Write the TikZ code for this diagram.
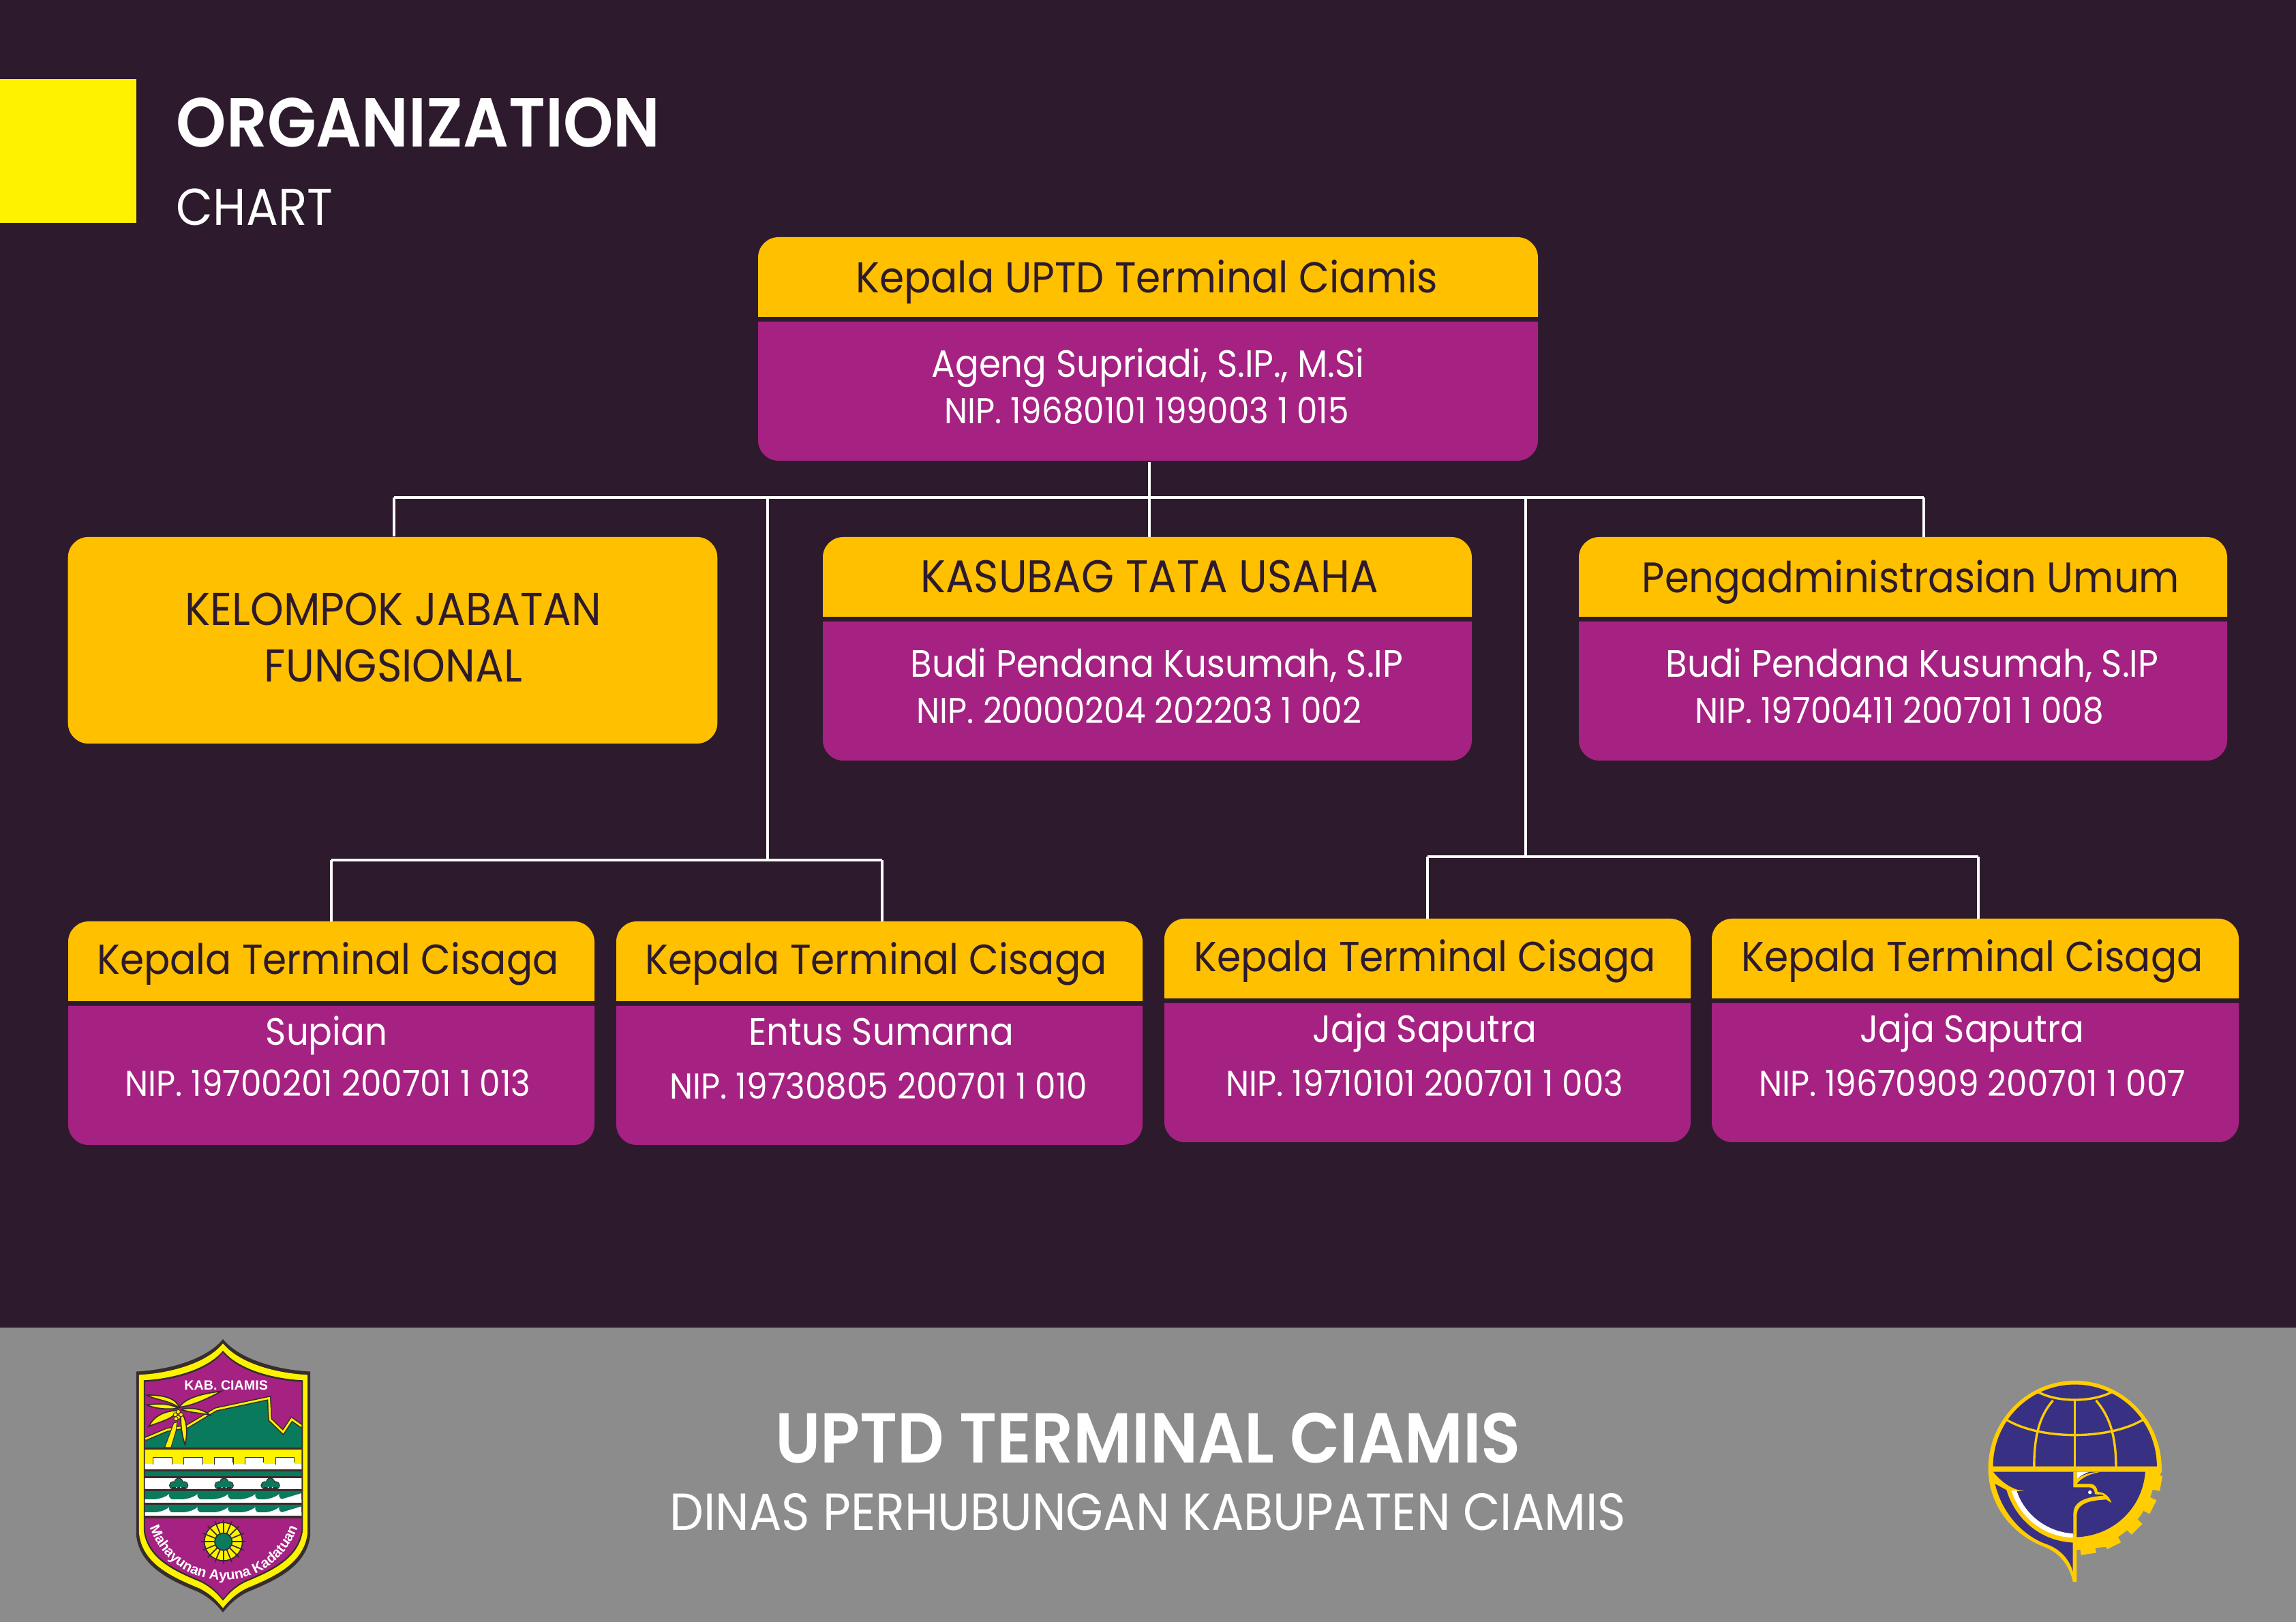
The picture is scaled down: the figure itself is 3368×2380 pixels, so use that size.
\documentclass[tikz,border=0pt]{standalone}
\usepackage{fontspec}
\usepackage{xcolor}
\usepackage{tikz}
\usetikzlibrary{decorations.text}
\setmainfont[FakeStretch=0.92]{Poppins}
\newfontfamily\semifont[FakeStretch=0.92]{Poppins SemiBold}
\newfontfamily\crestfont{Liberation Sans}
\definecolor{ogPlum}   {RGB}{ 45, 27, 45}
\definecolor{ogPurple} {RGB}{166, 34,130}
\definecolor{ogGold}   {RGB}{255,192,  0}
\definecolor{ogYellow} {RGB}{255,242,  0}
\definecolor{ogGrey}   {RGB}{140,140,140}
\definecolor{ogGreen}  {RGB}{ 10,122, 92}
\definecolor{ogInk}    {RGB}{ 55, 45, 45}
\definecolor{ogNavy}   {RGB}{ 56, 48,130}
\definecolor{ogAmber}  {RGB}{255,205,  0}

% one card: name, left, top, width
\newcommand{\orgcard}[4]{%
  \node[cardbox,minimum width=#4*0.01cm,anchor=north west] (#1) at (#2,#3) {};
  \fill[ogGold] (#2,{#3+117}) [rounded corners=0.3cm] -- (#2,#3) -- ({#2+#4},#3)
    -- ({#2+#4},{#3+60}) [sharp corners] -- ({#2+#4},{#3+117}) -- cycle;
  \fill[ogPurple] (#2,{#3+124}) -- ({#2+#4},{#3+124}) [rounded corners=0.3cm]
    -- ({#2+#4},{#3+328}) -- (#2,{#3+328}) -- (#2,{#3+200}) [sharp corners] -- cycle;
}
\newcommand{\crestshape}{(532,105) .. controls (600,190) and (760,240) .. (917,248)
  -- (917,970) .. controls (900,1110) and (760,1170) .. (640,1220)
  .. controls (590,1245) and (560,1275) .. (532,1310)
  .. controls (504,1275) and (474,1245) .. (424,1220)
  .. controls (304,1170) and (165,1110) .. (150,970) -- (150,248)
  .. controls (304,240) and (464,190) .. (532,105) -- cycle}

\begin{document}
\begin{tikzpicture}[
  x=0.01cm,y=-0.01cm,
  cardbox/.style={minimum height=3.28cm,inner sep=0pt},
  link/.style={draw=white,line width=1.1pt},
  headtxt/.style={anchor=base,text=ogPlum,font=\fontsize{18}{22}\selectfont},
  termtxt/.style={headtxt,font=\fontsize{17.5}{22}\selectfont},
  nametxt/.style={anchor=base,text=white,font=\fontsize{15.9}{20}\selectfont},
  niptxt/.style={anchor=base,text=white,font=\fontsize{15}{17}\selectfont}
]
\useasboundingbox (0,0) rectangle (3368,2380);
\fill[ogPlum] (0,0) rectangle (3368,1948);
\fill[ogGrey] (0,1948) rectangle (3368,2380);
\fill[ogYellow] (0,116) rectangle (200,327);

\node[anchor=base west,text=white,inner sep=0pt,font=\fontsize{28.9}{34}\semifont] (ttl) at (258,216) {ORGANIZATION};
\node[anchor=base west,text=white,inner sep=0pt,font=\fontsize{21.6}{24}\selectfont] (sub) at (258,331) {CHART};

% connectors first
\coordinate (busL) at (578,730);
\coordinate (busM) at (1686,730);
\coordinate (busR) at (2822,730);
\coordinate (busA) at (1126,730);
\coordinate (busB) at (2238,730);
\coordinate (forkA) at (1126,1262);
\coordinate (forkB) at (2238,1257);
\coordinate (dropA) at (486,1262);
\coordinate (dropB) at (1294,1262);
\coordinate (dropC) at (2094,1257);
\coordinate (dropD) at (2902,1257);

\orgcard{kepala}{1112}{348}{1144}
\orgcard{tu}{1207}{788}{952}
\orgcard{umum}{2316}{788}{951}
\orgcard{ta}{100}{1352}{772}
\orgcard{tb}{904}{1352}{772}
\orgcard{tc}{1708}{1348}{772}
\orgcard{td}{2511}{1348}{773}
\node[fill=ogGold,rounded corners=0.3cm,minimum width=9.52cm,minimum height=3.03cm,
      text=ogPlum] (jf) at (576,939.5) {};
\node[align=center,text=ogPlum,font=\fontsize{19.2}{23.6}\selectfont] (jfT) at (577,935)
      {KELOMPOK JABATAN\\FUNGSIONAL};

\draw[link] (busM |- kepala.south) -- (busM);
\draw[link] (busL) -- (busR);
\draw[link] (busL) -- (busL |- jf.north);
\draw[link] (busM) -- (busM |- tu.north);
\draw[link] (busR) -- (busR |- umum.north);
\draw[link] (busA) -- (forkA);
\draw[link] (busB) -- (forkB);
\draw[link] (dropA) -- (dropB);
\draw[link] (dropA) -- (dropA |- ta.north);
\draw[link] (dropB) -- (dropB |- tb.north);
\draw[link] (dropC) -- (dropD);
\draw[link] (dropC) -- (dropC |- tc.north);
\draw[link] (dropD) -- (dropD |- td.north);

\node[headtxt] (kepalaH) at (1682,430) {Kepala UPTD Terminal Ciamis};
\node[nametxt] (kepalaN) at (1684,554) {Ageng Supriadi, S.IP., M.Si};
\node[niptxt]  (kepalaP) at (1682,622) {NIP. 19680101 199003 1 015};
\node[headtxt,font=\fontsize{19.1}{22}\selectfont] (tuH) at (1686,870) {KASUBAG TATA USAHA};
\node[nametxt] (tuN) at (1697,994) {Budi Pendana Kusumah, S.IP};
\node[niptxt]  (tuP) at (1671,1062) {NIP. 20000204 202203 1 002};
\node[headtxt,font=\fontsize{17.8}{22}\selectfont] (umumH) at (2803,870) {Pengadministrasian Umum};
\node[nametxt] (umumN) at (2805,994) {Budi Pendana Kusumah, S.IP};
\node[niptxt]  (umumP) at (2786,1062) {NIP. 19700411 200701 1 008};
\node[termtxt] (taH) at (481,1430) {Kepala Terminal Cisaga};
\node[nametxt] (taN) at (479,1534) {Supian};
\node[niptxt]  (taP) at (481,1609) {NIP. 19700201 200701 1 013};
\node[termtxt] (tbH) at (1285,1430) {Kepala Terminal Cisaga};
\node[nametxt] (tbN) at (1293,1534) {Entus Sumarna};
\node[niptxt]  (tbP) at (1289,1613) {NIP. 19730805 200701 1 010};
\node[termtxt] (tcH) at (2090,1426) {Kepala Terminal Cisaga};
\node[nametxt] (tcN) at (2090,1530) {Jaja Saputra};
\node[niptxt]  (tcP) at (2090,1609) {NIP. 19710101 200701 1 003};
\node[termtxt] (tdH) at (2893,1426) {Kepala Terminal Cisaga};
\node[nametxt] (tdN) at (2893,1530) {Jaja Saputra};
\node[niptxt]  (tdP) at (2893,1609) {NIP. 19670909 200701 1 007};

\node[anchor=base,text=white,font=\fontsize{29.5}{34}\semifont] (foot) at (1684,2146) {UPTD TERMINAL CIAMIS};
\node[anchor=base,text=white,font=\fontsize{21.8}{24}\selectfont] (dinas) at (1684,2245) {DINAS PERHUBUNGAN KABUPATEN CIAMIS};

% crest of the regency
\begin{scope}[shift={(150,1930)},x=0.00333cm,y=-0.00333cm]
\fill[ogInk] \crestshape;
\fill[ogYellow,scale around={0.968:(533,700)}] \crestshape;
\fill[ogInk,scale around={0.915:(533,700)}] \crestshape;
\begin{scope}
\clip[scale around={0.9:(533,705)}] \crestshape;
\fill[ogPurple] (100,100) rectangle (1000,1400);
\fill[ogGreen] (190,585) -- (190,550) -- (285,510) -- (375,495) -- (500,420) -- (735,370)
  -- (740,465) -- (797,515) -- (835,465) -- (880,495) -- (880,585) -- cycle;
\draw[ogInk,line width=1.7pt] (190,545) -- (285,505) -- (375,490) -- (500,415) -- (735,365)
  -- (740,460) -- (797,515) -- (835,458) -- (880,490);
\draw[ogYellow,line width=0.8pt] (190,545) -- (285,505) -- (375,490) -- (500,415) -- (735,365)
  -- (740,460) -- (797,515) -- (835,458) -- (880,490);
\fill[ogInk] (180,583) rectangle (890,895);
\fill[ogYellow] (180,592) rectangle (890,655);
\fill[white] (180,655) rectangle (890,679);
\foreach \m in {225,360,495,630,765}
  \fill[white,draw=ogInk,line width=0.3pt] (\m,626) -- (\m,655) -- ({\m+82},655) -- ({\m+82},626) -- cycle;
\foreach \m in {225,360,495,630,765}
  \fill[white] ({\m+1},650) rectangle ({\m+81},660);
\fill[ogGreen] (180,688) rectangle (890,709);
\fill[white] (180,718) rectangle (890,767);
\fill[ogGreen] (180,776) rectangle (890,826);
\fill[ogGreen] (180,834) rectangle (890,884);
\foreach \c in {337,537,741} {
  \fill[ogGreen,draw=ogInk,line width=0.3pt] (\c,736) circle (18);
  \fill[ogGreen,draw=ogInk,line width=0.3pt] ({\c-24},750) circle (17);
  \fill[ogGreen,draw=ogInk,line width=0.3pt] ({\c+24},750) circle (17);
  \fill[ogGreen] (\c,745) circle (18);
  \fill[ogInk] ({\c-30},756) rectangle ({\c+30},767);
  \fill[white] ({\c-9},759) circle (3);
  \fill[white] ({\c+9},759) circle (3);
}
\foreach \w in {0,58} {
  \fill[white] (180,{\w+810}) rectangle (890,{\w+826});
  \foreach \p in {295,420,555,675,780}
    \fill[white] ({\p-95},{\w+814}) .. controls ({\p-50},{\w+812}) and ({\p-20},{\w+805}) .. (\p,{\w+788})
      .. controls ({\p-5},{\w+800}) and ({\p+5},{\w+808}) .. ({\p+15},{\w+814}) -- cycle;
  \fill[white] (780,{\w+814}) -- (880,{\w+784}) -- (880,{\w+814}) -- cycle;
}
% palm
\fill[ogYellow,draw=ogInk,line width=0.3pt] (275,583) -- (315,475) -- (330,470) -- (325,510) -- (303,583) -- cycle;
\foreach \fr in {
  {(340,410) .. controls (330,370) and (280,350) .. (195,352) .. controls (240,375) and (300,375) .. (340,410)},
  {(335,410) .. controls (290,385) and (240,390) .. (195,395) .. controls (240,415) and (300,415) .. (335,410)},
  {(335,420) .. controls (280,420) and (230,440) .. (205,490) .. controls (250,470) and (310,460) .. (335,420)},
  {(340,405) .. controls (360,370) and (430,345) .. (525,335) .. controls (450,375) and (390,400) .. (340,405)},
  {(345,415) .. controls (390,405) and (440,410) .. (475,440) .. controls (430,430) and (390,430) .. (345,415)},
  {(345,425) .. controls (370,450) and (380,510) .. (365,570) .. controls (350,530) and (345,480) .. (345,425)}}
  \filldraw[ogYellow,draw=ogInk,line width=0.5pt] \fr;
\foreach \cx/\cy in {335/425,322/438,347/438,335/450,325/456}
  \filldraw[ogYellow,draw=ogInk,line width=0.25pt] (\cx,\cy) circle (9);
% wheel
\fill[ogYellow,even odd rule] (534,998) circle (84) (534,998) circle (40);
\draw[ogInk,line width=0.5pt] (534,998) circle (84);
\foreach \a in {0,22.5,...,337.5}
  \draw[ogInk,line width=0.5pt] ({534+40*cos(\a)},{998+40*sin(\a)}) -- ({534+98*cos(\a)},{998+98*sin(\a)});
\fill[ogGreen,draw=ogInk,line width=0.5pt] (534,998) circle (38);
\end{scope}
\node[text=white,font=\crestfont\bfseries\fontsize{5.6}{7}\selectfont,inner sep=0pt] (kab) at (546,310) {KAB. CIAMIS};
\path[decorate,decoration={text along path,text align=center,
    text={|\crestfont\bfseries\fontsize{5.9}{7}\selectfont\color{white}|Mahayunan Ayuna Kadatuan}}]
  (205,925) .. controls (270,1110) and (420,1165) .. (534,1168) .. controls (650,1165) and (800,1110) .. (865,925);
\end{scope}

% emblem of the ministry
\begin{scope}[shift={(2860,1990)},x=0.00333cm,y=-0.00333cm]
\fill[ogAmber] (170,495) .. controls (170,285) and (340,108) .. (552,108)
  .. controls (764,108) and (934,285) .. (934,495) -- (934,510) -- (862,640) -- (700,840) -- (560,852)
  -- (560,995) -- (543,995) .. controls (530,930) and (490,870) .. (420,842)
  .. controls (280,790) and (170,660) .. (170,495) -- cycle;
\fill[ogAmber] (552,505) -- (907,505) .. controls (900,700) and (745,850) .. (552,854) -- cycle;
\foreach \a in {10.6,27,45,63.5,81}
  \fill[ogAmber] ({552+345*cos(\a-5.5)},{490+345*sin(\a-5.5)}) -- ({552+388*cos(\a-5)},{490+388*sin(\a-5)})
    -- ({552+388*cos(\a+5)},{490+388*sin(\a+5)}) -- ({552+345*cos(\a+5.5)},{490+345*sin(\a+5.5)}) -- cycle;
\fill[ogNavy] (191,486) .. controls (191,290) and (350,125) .. (552,125)
  .. controls (754,125) and (913,290) .. (913,486) -- cycle;
\draw[ogAmber,line width=0.95pt] (385,155) .. controls (470,205) and (630,205) .. (720,155);
\draw[ogAmber,line width=0.95pt] (250,280) .. controls (400,370) and (700,370) .. (852,280);
\draw[ogAmber,line width=0.95pt] (552,195) -- (552,490);
\draw[ogAmber,line width=0.95pt] (455,195) .. controls (400,260) and (372,340) .. (372,490);
\draw[ogAmber,line width=0.95pt] (645,195) .. controls (700,260) and (733,340) .. (733,490);
% lower half
\fill[ogNavy] (200,563) .. controls (230,690) and (320,790) .. (425,828)
  .. controls (490,850) and (530,900) .. (543,950) -- (543,822)
  .. controls (400,815) and (290,720) .. (250,590) -- cycle;
\fill[ogNavy] (192,510) -- (862,510) .. controls (850,670) and (720,795) .. (552,798)
  -- (543,782) .. controls (420,775) and (320,700) .. (285,595) -- (335,595)
  .. controls (270,590) and (225,550) .. (192,510) -- cycle;
\fill[white] (272,593) -- (295,593) .. controls (330,700) and (430,775) .. (543,782) -- (543,800)
  .. controls (410,795) and (310,710) .. (272,593) -- cycle;
\fill[white] (560,510) -- (615,510) .. controls (590,518) and (572,530) .. (560,543) -- cycle;
\fill[ogAmber] (545,510) -- (560,510) -- (560,543) .. controls (580,525) and (620,510) .. (665,510)
  .. controls (620,518) and (580,535) .. (560,563) -- (620,563) .. controls (640,563) and (650,580) .. (652,598)
  .. controls (685,600) and (705,620) .. (713,647) -- (690,632) .. controls (640,635) and (562,640) .. (560,700)
  -- (560,800) -- (545,800) -- (545,695) .. controls (545,640) and (600,620) .. (680,615)
  .. controls (670,605) and (650,612) .. (640,608) .. controls (640,590) and (630,578) .. (615,578)
  -- (545,578) -- cycle;
\fill[white] (618,600) circle (8);
\end{scope}
\end{tikzpicture}
\end{document}
